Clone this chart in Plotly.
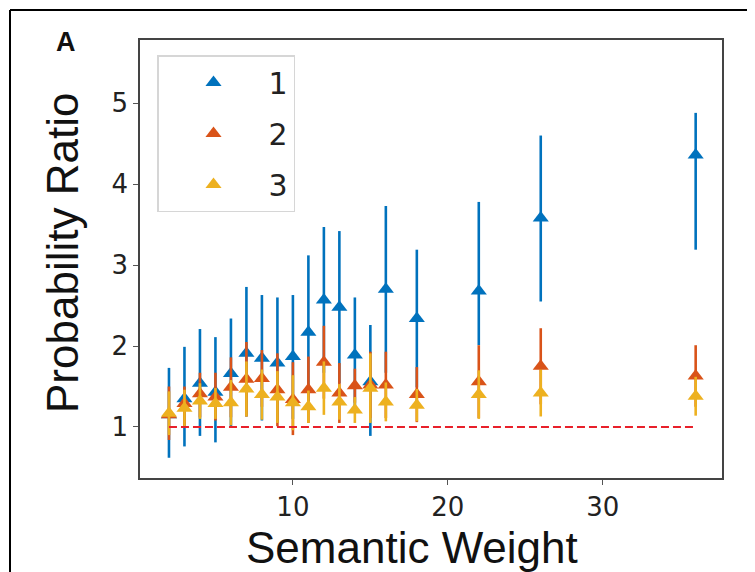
import plotly.graph_objects as go

# ---- data ----
semantic_weight = [2, 3, 4, 5, 6, 7, 8, 9, 10, 11, 12, 13, 14, 15, 16, 18, 22, 26, 36]
series_names = ["1", "2", "3"]

s1_mean = [1.15, 1.35, 1.54, 1.43, 1.66, 1.91, 1.85, 1.79, 1.87, 2.17, 2.57, 2.48, 1.89, 1.56, 2.70, 2.34, 2.68, 3.58, 4.36]
s1_high = [1.73, 1.99, 2.21, 2.11, 2.34, 2.73, 2.63, 2.60, 2.63, 3.12, 3.47, 3.42, 2.60, 2.26, 3.73, 3.19, 3.78, 4.60, 4.88]
s1_low = [0.62, 0.76, 0.89, 0.81, 1.00, 1.13, 1.08, 1.05, 1.10, 1.22, 1.67, 1.54, 1.18, 0.89, 1.67, 1.49, 2.01, 2.55, 3.19]

s2_mean = [1.15, 1.29, 1.41, 1.37, 1.49, 1.59, 1.60, 1.46, 1.34, 1.46, 1.80, 1.42, 1.51, 1.52, 1.52, 1.40, 1.56, 1.75, 1.63]
s2_high = [1.50, 1.50, 1.67, 1.67, 1.86, 2.05, 1.95, 1.91, 1.80, 1.87, 2.25, 1.79, 1.72, 1.93, 1.93, 1.74, 2.01, 2.22, 2.01]
s2_low = [0.84, 1.02, 1.12, 1.08, 1.12, 1.13, 1.25, 1.01, 0.90, 1.05, 1.35, 1.05, 1.30, 1.11, 1.11, 1.06, 1.11, 1.28, 1.25]

s3_mean = [1.17, 1.23, 1.32, 1.29, 1.30, 1.47, 1.40, 1.37, 1.30, 1.25, 1.48, 1.31, 1.21, 1.48, 1.31, 1.27, 1.40, 1.42, 1.38]
s3_high = [1.44, 1.46, 1.54, 1.48, 1.58, 1.81, 1.71, 1.69, 1.64, 1.45, 1.81, 1.53, 1.37, 1.91, 1.55, 1.47, 1.70, 1.71, 1.62]
s3_low = [0.90, 1.00, 1.10, 1.10, 1.02, 1.13, 1.09, 1.05, 0.96, 1.05, 1.15, 1.09, 1.05, 1.05, 1.07, 1.07, 1.10, 1.13, 1.14]

baseline = 1.0

colors = ["#0072BD", "#D95319", "#EDB120"]

fig = go.Figure()

for i, (name, mean, high, low, col) in enumerate(zip(
    series_names,
    [s1_mean, s2_mean, s3_mean],
    [s1_high, s2_high, s3_high],
    [s1_low, s2_low, s3_low],
    colors,
)):
    fig.add_trace(go.Scatter(
        x=semantic_weight,
        y=mean,
        name=name,
        legendgroup="g" + name,
        mode="markers",
        marker=dict(symbol="triangle-up", size=14, color=col, line=dict(width=0)),
        error_y=dict(
            type="data", symmetric=False,
            array=[h - m for h, m in zip(high, mean)],
            arrayminus=[m - l for m, l in zip(mean, low)],
            color=col, thickness=2.6, width=0,
        ),
    ))

fig.add_trace(go.Scatter(
    x=[semantic_weight[0], semantic_weight[-1]],
    y=[baseline, baseline],
    mode="lines",
    line=dict(color="#e8202a", width=2, dash="8px,4px"),
    showlegend=False,
    hoverinfo="skip",
))

# page offset (body margin) compensation
OFF = 8
PAGE_W, PAGE_H = 755, 572
W, H = PAGE_W - OFF, PAGE_H - OFF
# plot area in page pixels: x 140..722, y 40..478
L = 140 - OFF
T = 40 - OFF
R = W - (722 - OFF)
B = H - (478 - OFF)
pw, ph = W - L - R, H - T - B


def px(xp):
    return (xp - OFF - L) / pw


def py(yp):
    return (H - B - (yp - OFF)) / ph


axis_common = dict(
    showline=True, mirror=True, linecolor="#444", linewidth=1.5,
    ticks="outside", ticklen=5, tickwidth=1.3, tickcolor="#555",
    showgrid=False, zeroline=False,
    tickfont=dict(family="DejaVu Sans", size=26, color="#222"),
)

fig.update_layout(
    width=W, height=H,
    margin=dict(l=L, r=R, t=T, b=B),
    paper_bgcolor="white", plot_bgcolor="white",
    xaxis=dict(range=[0.13, 37.7], tickvals=[10, 20, 30], **axis_common),
    yaxis=dict(range=[0.37, 5.78], tickvals=[1, 2, 3, 4, 5], **axis_common),
    legend=dict(
        x=px(157), y=py(55), xanchor="left", yanchor="top",
        bgcolor="white", bordercolor="#d6d6d6", borderwidth=1.5,
        font=dict(family="DejaVu Sans", size=30, color="#222"),
        itemwidth=100, tracegroupgap=9,
    ),
    showlegend=True,
    annotations=[
        dict(text="Semantic Weight", xref="paper", yref="paper",
             x=px(412), y=py(547), xanchor="center", yanchor="middle",
             showarrow=False, font=dict(family="Liberation Sans", size=44, color="#111")),
        dict(text="Probability Ratio", xref="paper", yref="paper",
             x=px(63), y=py(253), xanchor="center", yanchor="middle", textangle=-90,
             showarrow=False, font=dict(family="Liberation Sans", size=44, color="#111")),
        dict(text="<b>A</b>", xref="paper", yref="paper",
             x=px(66), y=py(42), xanchor="center", yanchor="middle",
             showarrow=False, font=dict(family="Liberation Sans", size=27, color="#111")),
    ],
    shapes=[
        dict(type="line", xref="paper", yref="paper", x0=px(10), x1=px(752), y0=py(10), y1=py(10),
             line=dict(color="black", width=2)),
        dict(type="line", xref="paper", yref="paper", x0=px(10), x1=px(10), y0=py(10), y1=py(PAGE_H),
             line=dict(color="black", width=2)),
        dict(type="line", xref="paper", yref="paper", x0=px(752), x1=px(752), y0=py(10), y1=py(PAGE_H),
             line=dict(color="black", width=2)),
    ],
)

fig.write_html("out.html")
